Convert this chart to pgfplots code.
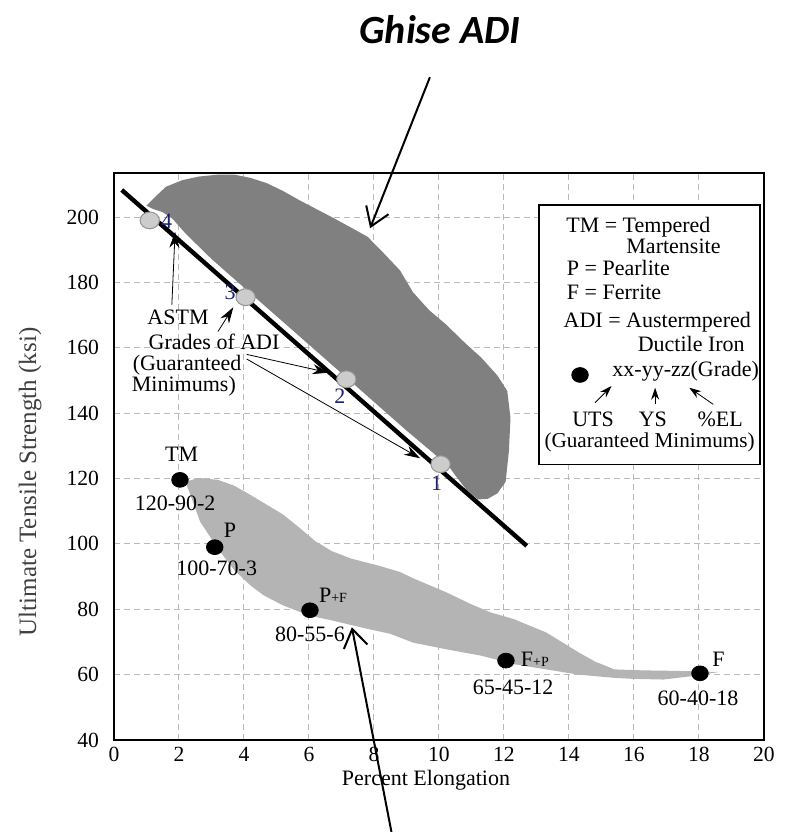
\documentclass[border=0pt]{standalone}
\usepackage{fontspec}
\setmainfont{Liberation Serif}
\newfontfamily\titlefont{Carlito}
\usepackage{pgfplots}
\pgfplotsset{compat=1.18}
\usetikzlibrary{arrows.meta}
\definecolor{darkreg}{RGB}{128,128,128}
\definecolor{lightreg}{RGB}{180,180,180}
\definecolor{gradeblue}{RGB}{25,35,110}
\begin{document}
\begin{tikzpicture}
\path[use as bounding box] (-57pt,-46pt) rectangle (336pt,370pt);
\begin{axis}[
  at={(0,0)}, anchor=south west,
  scale only axis, width=325pt, height=283.5pt,
  xmin=0, xmax=20, ymin=40, ymax=213.5,
  xtick={0,2,...,20}, ytick={40,60,...,200},
  major tick length=0pt,
  grid=major,
  major grid style={densely dashed, gray!55, line width=0.5pt},
  axis line style={black, line width=0.8pt},
  tick label style={font=\fontsize{10.8}{12}\selectfont},
  /pgf/number format/assume math mode=true,
  yticklabel style={xshift=-4pt},
  xlabel={Percent Elongation},
  ylabel={Ultimate Tensile Strength (ksi)},
  xlabel style={at={(axis description cs:0.48,-0.0705)}, anchor=center, font=\fontsize{11}{12}\selectfont},
  ylabel style={at={(axis description cs:-0.129,0.455)}, anchor=center, font=\fontsize{12.5}{14}\selectfont, text=black!75},
  clip=false,
]
% ADI region (dark)
\addplot[fill=darkreg, draw=none] coordinates {
(1.0,203.5) (1.3,206.5) (1.6,209.3) (2.1,211.3) (2.6,212.4) (3.2,213) (3.7,213)
(4.2,212) (4.7,210.4) (5.2,208) (5.7,205.2) (6.2,202.6) (6.7,200) (7.2,197.3)
(7.8,194) (8.2,190) (8.8,183.7) (9.2,177) (9.7,171.5) (10.2,167.3) (10.8,161.5)
(11.3,157) (11.8,151.5) (12.1,146.8) (12.2,138.6) (12.15,128.3) (12.05,119)
(11.8,115.5) (11.5,113.8) (11.2,113.6) (10.85,116.5) (10.5,121) (10.3,123.8)
(9,134.7) (7.3,149.6) (5,169.7) (4.2,176.7) (3,187.2) (2.2,195) (1.8,199.5)
(1.5,201.5) (1.2,202.5)} -- cycle;
% conventional ductile iron region (light)
\addplot[fill=lightreg, draw=none] coordinates {
(2.2,119) (2.6,120.2) (3.2,119.6) (3.7,117.8) (4.2,115) (4.7,112) (5.2,109)
(5.7,105) (6.2,100.8) (6.7,97.8) (7.3,95.5) (8.2,93.2) (8.8,91.4) (9.2,89.5)
(10.2,85.3) (11.0,81.5) (11.6,79) (12.3,77) (13.3,72.9) (14.3,66.8) (14.8,64)
(15.4,61.6) (16.3,61.3) (17.0,61.2) (18.0,61.0) (18.6,60.8) (18.0,59.8)
(16.9,58.5) (16.0,58.7) (15.4,59.0) (14.3,60.0) (13.3,61.6) (12.3,63.2)
(11.3,65.8) (10.2,67.8) (9.2,69.8) (8.5,72.5) (7.8,74) (6.7,76.6) (6.0,78.1)
(5.2,81.2) (4.6,84.3) (4.2,87.3) (3.7,92) (3.2,98.5) (2.65,106.8) (2.35,115)} -- cycle;
% ASTM minimum line
\addplot[black, line width=2.2pt] coordinates {(0.24,208.3) (12.7,99.4)};
% ASTM grades
\addplot[only marks, mark=*, mark size=4.2pt, mark options={fill=gray!40, draw=gray!85, line width=0.5pt, xscale=1.15}]
  coordinates {(1.1,199) (4.05,175.5) (7.15,150.4) (10.05,124.4)};
% ductile iron grades
\addplot[only marks, mark=*, mark size=3.7pt, mark options={xscale=1.12}, black]
  coordinates {(2.03,119.6) (3.1,99) (6.03,79.7) (12.06,64.3) (18.03,60.4)};

\begin{scope}[font=\fontsize{11}{12}\selectfont]
% grade numbers
\node[text=gradeblue] at (axis cs:1.62,198.6) {4};
\node[text=gradeblue] at (axis cs:3.57,177) {3};
\node[text=gradeblue] at (axis cs:6.95,145.2) {2};
\node[text=gradeblue] at (axis cs:9.93,118.6) {1};
% ASTM annotation
\node at (axis cs:1.97,169.2) {ASTM};
\node at (axis cs:3.08,161.9) {Grades of ADI};
\node at (axis cs:2.25,154.6) {(Guaranteed};
\node at (axis cs:2.15,148.4) {Minimums)};
\draw[line width=0.4pt, -{Stealth[length=8pt,width=5pt]}] (axis cs:1.78,173.2) -- (axis cs:1.88,195.5);
\draw[line width=0.4pt, -{Stealth[length=8pt,width=5pt]}] (axis cs:3.2,165.0) -- (axis cs:3.67,172.4);
\draw[line width=0.4pt, -{Stealth[length=8pt,width=5pt]}] (axis cs:4.08,158) -- (axis cs:6.6,152.4);
\draw[line width=0.4pt, -{Stealth[length=8pt,width=5pt]}] (axis cs:4.08,156.6) -- (axis cs:9.42,126.2);
% point labels
\node at (axis cs:2.08,127.4) {TM};
\node at (axis cs:1.88,112.4) {120-90-2};
\node at (axis cs:3.57,104.3) {P};
\node at (axis cs:3.16,92.4) {100-70-3};
\node at (axis cs:6.74,84.3) {P{\scriptsize +F}};
\node at (axis cs:6.03,72.4) {80-55-6};
\node at (axis cs:12.95,64.7) {F{\scriptsize +P}};
\node at (axis cs:12.28,56) {65-45-12};
\node at (axis cs:18.6,64.7) {F};
\node at (axis cs:17.97,52.9) {60-40-18};
% key box
\draw[fill=white, line width=0.8pt] (axis cs:13.08,203.7) rectangle (axis cs:19.88,124.3);
\node[anchor=west] at (axis cs:13.7,197.0) {TM = Tempered};
\node[anchor=west] at (axis cs:15.55,191.1) {Martensite};
\node[anchor=west] at (axis cs:13.72,184.3) {P = Pearlite};
\node[anchor=west] at (axis cs:13.72,177.0) {F = Ferrite};
\node[anchor=west] at (axis cs:13.62,167.8) {ADI = Austermpered};
\node[anchor=west] at (axis cs:15.9,161.3) {Ductile Iron};
\node[anchor=west] at (axis cs:15.12,152.9) {xx-yy-zz(Grade)};
\node at (axis cs:14.74,138.2) {UTS};
\node at (axis cs:16.58,138.2) {YS};
\node at (axis cs:18.65,138.2) {\%EL};
\node[font=\fontsize{10.6}{12}\selectfont] at (axis cs:16.48,131.1) {(Guaranteed Minimums)};
\draw[line width=0.4pt, -{Stealth[length=6pt,width=4pt]}] (axis cs:14.8,143.2) -- (axis cs:15.31,148.3);
\draw[line width=0.4pt, -{Stealth[length=6pt,width=4pt]}] (axis cs:16.65,142.7) -- (axis cs:16.65,147.8);
\draw[line width=0.4pt, -{Stealth[length=6pt,width=4pt]}] (axis cs:18.44,142.7) -- (axis cs:17.7,147.8);
\end{scope}
\addplot[only marks, mark=*, mark size=3.7pt, mark options={xscale=1.12}, black]
  coordinates {(14.34,151.7)};
% title and pointers
\node[font={\titlefont\fontsize{20}{24}\selectfont\bfseries\itshape}] at (axis cs:10.03,257.5) {Ghise ADI};
\draw[line width=1pt, -{Straight Barb[length=9pt,width=12pt]}] (axis cs:9.72,242.8) -- (axis cs:7.88,196.6);
\draw[line width=1pt, -{Straight Barb[length=9pt,width=12pt]}] (axis cs:8.55,11.2) -- (axis cs:7.32,74.5);
\end{axis}
\end{tikzpicture}
\end{document}
